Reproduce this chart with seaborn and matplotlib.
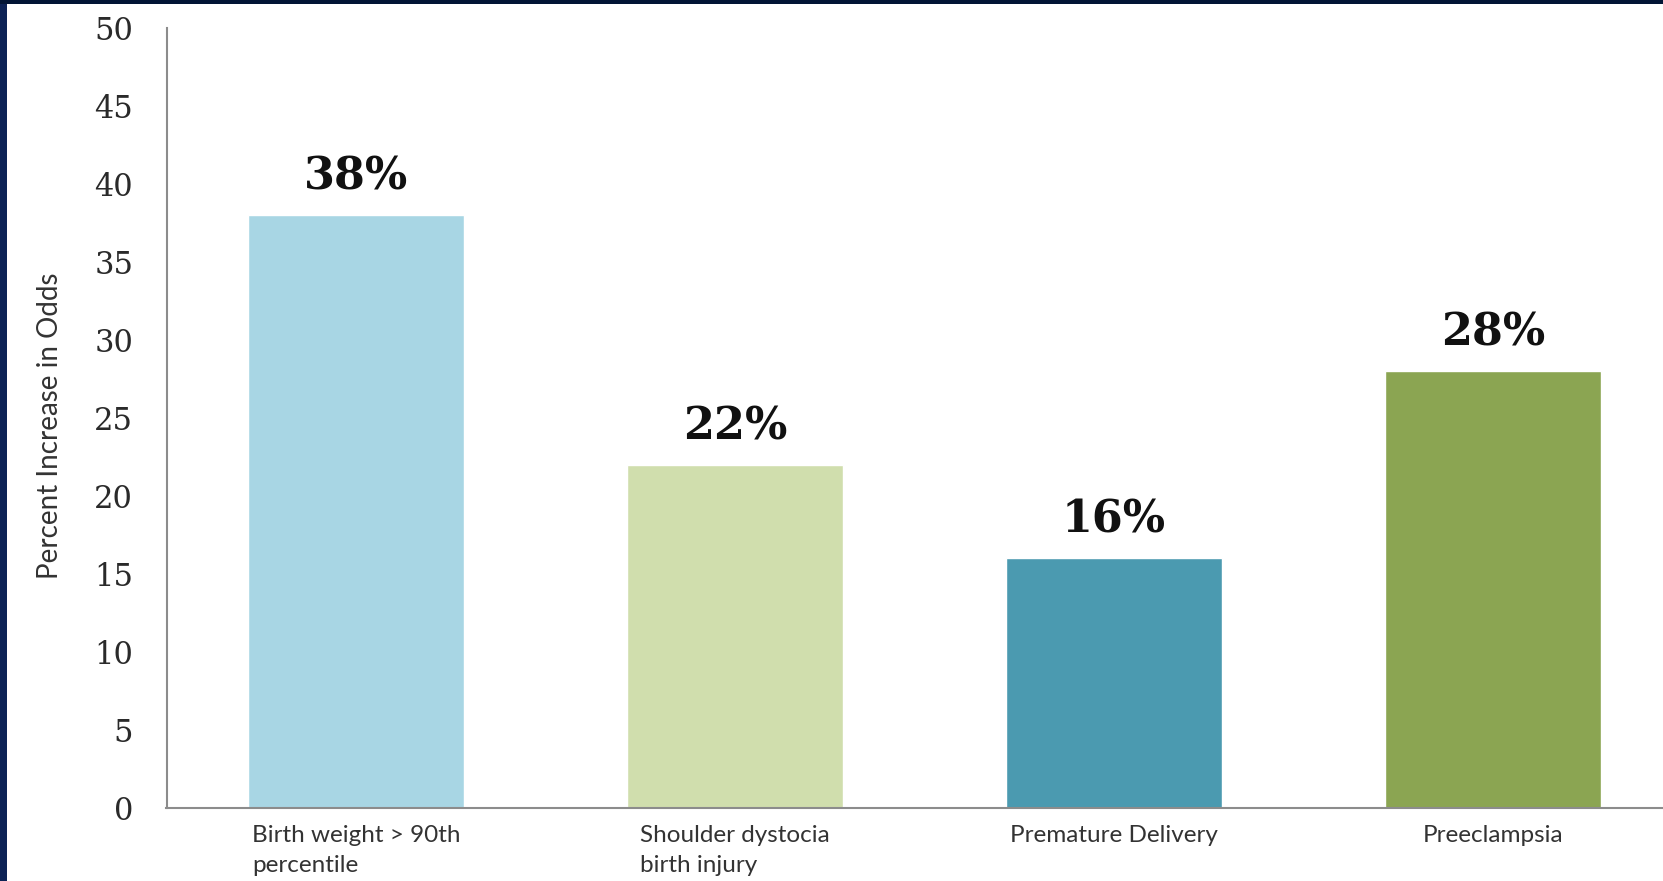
import matplotlib
matplotlib.use("Agg")
import matplotlib.pyplot as plt
from matplotlib.patches import Rectangle
import seaborn as sns
import pandas as pd

# Outcome categories and percent increase in odds
categories = [
    "Birth weight > 90th\npercentile",
    "Shoulder dystocia\nbirth injury",
    "Premature Delivery",
    "Preeclampsia",
]
values = [38, 22, 16, 28]
value_labels = ["38%", "22%", "16%", "28%"]
bar_colors = ["#A8D6E4", "#D0DEAD", "#4B9AB0", "#8BA552"]
y_ticks = [0, 5, 10, 15, 20, 25, 30, 35, 40, 45, 50]

sns.set_theme(style="white")

W, H = 1663, 881
fig = plt.figure(figsize=(W / 100, H / 100), dpi=100)
fig.patch.set_facecolor("#0C2255")

# White slide panel inside the navy frame (left and top edges)
fig.patches.append(Rectangle((7 / W, 0), 1 - 7 / W, (H - 3.5) / H,
                             transform=fig.transFigure, facecolor="white",
                             edgecolor="none", zorder=-10))
fig.patches.append(Rectangle((0, (H - 3.5) / H), 1, 3.5 / H,
                             transform=fig.transFigure, facecolor="#021535",
                             edgecolor="none", zorder=-10))

ax = fig.add_axes([166.5 / W, (H - 808) / H, 1 - 166.5 / W, (808 - 28) / H])
ax.set_facecolor("none")

df = pd.DataFrame({"category": categories, "value": values})
sns.barplot(data=df, x="category", y="value", hue="category",
            palette=bar_colors, width=0.57, saturation=1, legend=False, ax=ax)

for i, (v, lab) in enumerate(zip(values, value_labels)):
    ax.annotate(lab, xy=(i, v), xytext=(0, 12), textcoords="offset points",
                ha="center", va="bottom", fontsize=32, fontweight="bold",
                family="DejaVu Serif", color="#111111")

ax.set_ylim(0, 50)
ax.set_xlim(-0.5, (W - 356) / 379)
ax.set_yticks(y_ticks)
ax.set_yticklabels([str(t) for t in y_ticks], family="DejaVu Serif",
                   fontsize=22, color="#2A2A2A")
ax.tick_params(axis="y", length=0, pad=24)
ax.tick_params(axis="x", length=0, pad=12)
for lbl in ax.get_xticklabels():
    lbl.set_family("Lato")
    lbl.set_fontsize(17.5)
    lbl.set_color("#333333")
    lbl.set_multialignment("left")
    lbl.set_verticalalignment("top")
    lbl.set_linespacing(1.55)

ax.set_xlabel("")
ax.set_ylabel("Percent Increase in Odds", family="Lato", fontsize=20,
              color="#333333")
ax.yaxis.set_label_coords(-0.069, 0.49)

for side in ["top", "right"]:
    ax.spines[side].set_visible(False)
for side in ["left", "bottom"]:
    ax.spines[side].set_color("#8C8C8C")
    ax.spines[side].set_linewidth(1.5)

fig.savefig("out.png", dpi=100, facecolor=fig.get_facecolor())
